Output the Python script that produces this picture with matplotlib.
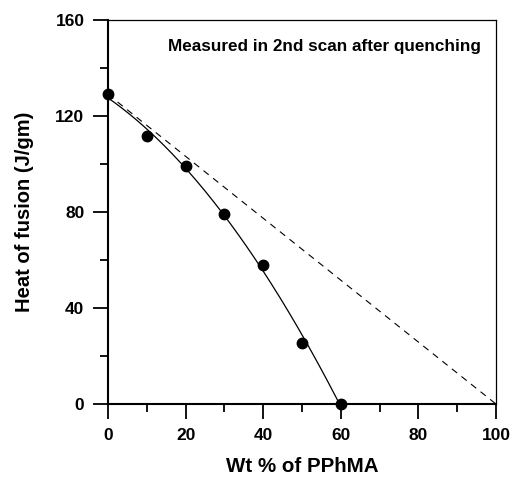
import numpy as np
import matplotlib.pyplot as plt

plt.rcParams['font.family'] = ['Liberation Sans', 'DejaVu Sans']
plt.rcParams['font.weight'] = 'bold'

# measured heat of fusion vs PPhMA content
wt_pphma = [0, 10, 20, 30, 40, 50, 60]
heat_fusion = [129, 111.5, 99, 79, 58, 25.5, 0]

# additivity line (pure polymer value -> 0 at 100 %)
ideal_x = [0, 100]
ideal_y = [129, 0]

fig = plt.figure(figsize=(5.13, 4.78), dpi=100)
ax = fig.add_axes([0.2105, 0.1548, 0.7563, 0.8034])

# smooth trend through the measured points
coef = np.polyfit(wt_pphma, heat_fusion, 2)
xs = np.linspace(0, 60, 200)
ax.plot(xs, np.polyval(coef, xs), color='black', lw=0.9)
ax.plot(ideal_x, ideal_y, color='black', lw=0.8, linestyle=(0, (6, 5)))
ax.plot(wt_pphma, heat_fusion, 'o', color='black', markersize=7.5, clip_on=False, zorder=5)

ax.text(96, 149, 'Measured in 2nd scan after quenching', ha='right', va='center',
        fontsize=12.3, fontweight='bold')

ax.set_xlim(0, 100)
ax.set_ylim(0, 160)
ax.set_xticks(np.arange(0, 101, 20))
ax.set_xticks(np.arange(0, 101, 10), minor=True)
ax.set_yticks(np.arange(0, 161, 40))
ax.set_yticks(np.arange(0, 161, 20), minor=True)
ax.tick_params(which='major', direction='out', length=11, width=1.3, labelsize=12.5, pad=6)
ax.tick_params(which='minor', direction='out', length=6, width=1.3)
for lbl in ax.get_xticklabels() + ax.get_yticklabels():
    lbl.set_fontweight('bold')

ax.spines['left'].set_linewidth(1.5)
ax.spines['bottom'].set_linewidth(1.5)
ax.spines['top'].set_linewidth(0.9)
ax.spines['right'].set_linewidth(0.9)

ax.set_xlabel('Wt % of PPhMA', fontsize=14.8, fontweight='bold', labelpad=10)
ax.set_ylabel('Heat of fusion (J/gm)', fontsize=14.5, fontweight='bold', labelpad=15)

fig.savefig('out.png', dpi=100)
